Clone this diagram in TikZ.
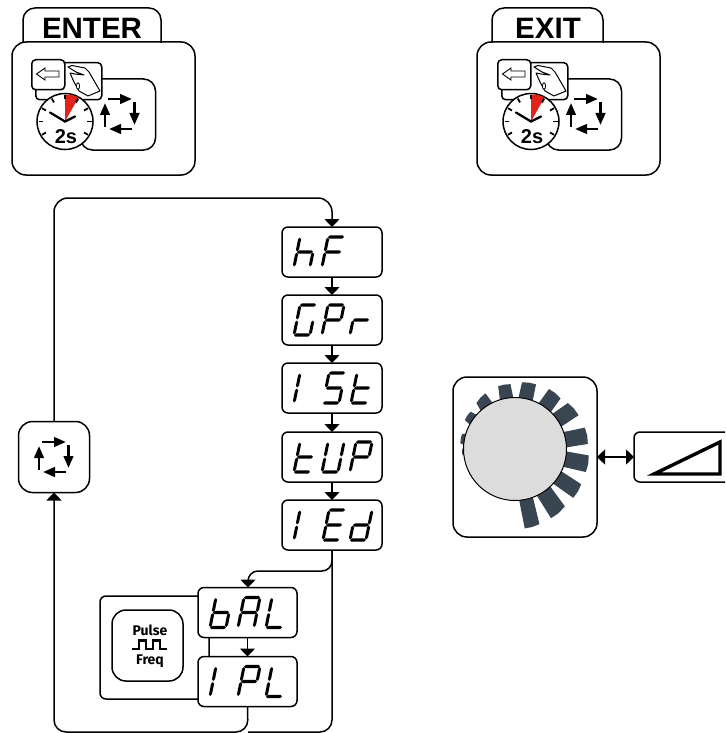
\documentclass[tikz,border=0pt]{standalone}
\usepackage{fontspec}
\setmainfont{Liberation Sans}
\newfontfamily\firafont{Fira Sans}
\usetikzlibrary{arrows.meta,calc}
\definecolor{wedgeblue}{HTML}{3A4552}
\definecolor{knobgrey}{HTML}{DCDCDC}
\definecolor{clockred}{HTML}{E2231A}
\tikzset{
  ln/.style={line width=1.5pt,draw=black},
  flow/.style={ln,-{Triangle[width=15pt,length=8pt]}},
  twoway/.style={ln,{Triangle[width=15pt,length=8pt]}-{Triangle[width=15pt,length=8pt]}},
  panel/.style={ln,rounded corners=14pt,minimum width=183pt,minimum height=133pt,inner sep=0pt,outer sep=0pt},
  display/.style={ln,rounded corners=6pt,minimum width=100pt,minimum height=50pt,inner sep=0pt,outer sep=0pt,fill=white},
  roundbox/.style={ln,rounded corners=14pt,inner sep=0pt,outer sep=0pt,fill=white},
  cycarrow/.style={line width=2.6pt,draw=black,-{Triangle[width=9.5pt,length=12pt]},shorten >=0pt},
  tabtitle/.style={font=\bfseries\fontsize{29.5}{29.5}\selectfont,inner sep=0pt},
}
% seven-segment pieces
\newcommand\hs[3]{\fill (#1,#3) -- ({#1+1.7},{#3-1.7}) -- ({#2-1.7},{#3-1.7}) -- (#2,#3) -- ({#2-1.7},{#3+1.7}) -- ({#1+1.7},{#3+1.7}) -- cycle;}
\newcommand\vs[3]{\fill (#1,#2) -- ({#1+1.5},{#2+1.8}) -- ({#1+1.5},{#3-1.8}) -- (#1,#3) -- ({#1-1.5},{#3-1.8}) -- ({#1-1.5},{#2+1.8}) -- cycle;}
\newcommand\segA{\hs{1}{17}{-30}}
\newcommand\segB{\vs{17}{-29.5}{-15.5}}
\newcommand\segC{\vs{17}{-14.5}{-0.5}}
\newcommand\segD{\hs{1}{17}{0}}
\newcommand\segE{\vs{1}{-14.5}{-0.5}}
\newcommand\segF{\vs{1}{-29.5}{-15.5}}
\newcommand\segG{\hs{1}{17}{-15}}
\newcommand\digit[3]{\begin{scope}[shift={($(#1.north west)+(#2,40)$)},xslant=0.2]#3\end{scope}}
% cycle arrows
\newcommand\cycarrows[2]{\begin{scope}[shift={(#1,#2)}]
  \draw[cycarrow] (-12,-15) -- (12,-15);
  \draw[cycarrow] (14.5,-12) -- (14.5,11);
  \draw[cycarrow] (12,15) -- (-11,15);
  \draw[cycarrow] (-15,13) -- (-15,-11);
\end{scope}}
% timed key icon
\newcommand\timedkey[2]{\begin{scope}[shift={(#1,0)}]
  \node[roundbox,rounded corners=12pt,minimum width=75pt,minimum height=71pt,anchor=north east] (#2loop) at (155.5,79) {};
  \node[ln,fill=white,rounded corners=4pt,minimum width=66pt,minimum height=37pt,inner sep=0pt,anchor=north west] (#2hand) at (35,62) {};
  \draw[line width=1pt,fill=white,line join=round] (68,67) -- (72,65.5) -- (85,68) -- (89,72) -- (100,91) -- (88,96) -- (79,91) -- (74,82) -- (70,73) -- (75,74) -- (84,75) -- (76,72) -- cycle;
  \draw[line width=0.8pt,fill=white] (78,86) ellipse (1.6 and 3.2);
  \node[ln,fill=white,rounded corners=4pt,minimum width=33pt,minimum height=30pt,inner sep=0pt,anchor=north west] (#2key) at (31,59) {};
  \draw[line width=0.9pt] (36.5,74) -- (45,68) -- (45,71) -- (59,71) -- (59,77) -- (45,77) -- (45,80) -- cycle;
  \node[ln,fill=white,circle,minimum size=56pt,inner sep=0pt] (#2clock) at (65,121.5) {};
  \fill[clockred] (65,121.5) -- (65,94.5) -- (72,95) -- (78.5,97.5) -- cycle;
  \foreach \a in {90,60,30,0,-30,150,180,210,120}
    \draw[line width=1.8pt] ({65+22*cos(\a)},{121.5-22*sin(\a)}) -- ({65+26.5*cos(\a)},{121.5-26.5*sin(\a)});
  \draw[line width=2.3pt,line cap=round] (50,112.5) -- (65,121.5) -- (75,116.5);
  \node[inner sep=0pt,font=\bfseries\fontsize{20}{20}\selectfont] (#2two) at (66,136.5) {2s};
\end{scope}
\cycarrows{\the\numexpr120+#1\relax}{114}}
\newcommand\dialwedge[4]{\fill[wedgeblue] ({515+47*cos(#1-3)},{449-47*sin(#1-3)}) -- ({515+#3*cos(#1)},{449-#3*sin(#1)}) -- ({515+0.5*(#3+#4)*cos(0.5*(#1+#2))/cos(0.5*(#2-#1))},{449-0.5*(#3+#4)*sin(0.5*(#1+#2))/cos(0.5*(#2-#1))}) -- ({515+#4*cos(#2)},{449-#4*sin(#2)}) -- ({515+47*cos(#2+3)},{449-47*sin(#2+3)}) -- cycle;}
\begin{document}
\begin{tikzpicture}[x=1pt,y=-1pt]
\useasboundingbox (0,0) rectangle (725,733);
\clip (0,0) rectangle (725,733);
% ENTER panel
\draw[ln,rounded corners=12pt] (23,43) -- (23,8) -- (161,8) -- (161,43);
\node[panel,draw,anchor=north west] (enterpanel) at (12,42) {};
\node[tabtitle] (entertitle) at (92,28) {ENTER};
\timedkey{0}{en}
% EXIT panel
\draw[ln,rounded corners=12pt] (492,43) -- (492,8) -- (603,8) -- (603,43);
\node[panel,draw,anchor=north west] (exitpanel) at (477,42) {};
\node[tabtitle] (exittitle) at (548,28) {EXIT};
\timedkey{466}{ex}
% pulse group behind the displays
\node[roundbox,rounded corners=6pt,draw,minimum width=109pt,minimum height=103pt,anchor=north west] (pulsegroup) at (100,596) {};
\node[roundbox,draw,minimum width=71pt,minimum height=71pt,anchor=north west] (pulsebox) at (112,610) {};
\node[inner sep=0pt,font=\firafont\bfseries\fontsize{14}{14}\selectfont] (pulsetxt) at (150,630) {Pulse};
\node[inner sep=0pt,font=\firafont\bfseries\fontsize{14}{14}\selectfont] (freqtxt) at (150,661) {Freq};
\draw[line width=2.6pt] (132,649) -- (139,649) -- (139,640.5) -- (146,640.5) -- (146,649) -- (153,649) -- (153,640.5) -- (160,640.5) -- (160,649) -- (167,649);
% displays
\node[display,draw] (hF) at (332,252) {};
\node[display,draw] (GPr) at (332,320) {};
\node[display,draw] (ISt) at (332,388) {};
\node[display,draw] (tUP) at (332,457) {};
\node[display,draw] (IEd) at (332,525) {};
\node[display,draw,minimum width=99pt] (bAL) at (247.5,612.5) {};
\node[display,draw,minimum width=99pt] (IPL) at (247.5,681.5) {};
% glyphs
\digit{hF}{11}{\segF\segE\segG\segC}
\digit{hF}{39}{\segA\segF\segE\segG}
\digit{GPr}{11}{\segA\segF\segE\segD\segC}
\digit{GPr}{39}{\segA\segB\segF\segE\segG}
\digit{GPr}{67}{\segE\segG}
\digit{ISt}{11}{\segF\segE}
\digit{ISt}{40}{\segA\segF\segG\segC\segD}
\digit{ISt}{68}{\segF\segE\segG\segD}
\digit{tUP}{11}{\segF\segE\segG\segD}
\digit{tUP}{39}{\segF\segE\segD\segC\segB}
\digit{tUP}{67}{\segA\segB\segF\segE\segG}
\digit{IEd}{11}{\segF\segE}
\digit{IEd}{40}{\segA\segF\segG\segE\segD}
\digit{IEd}{67}{\segB\segC\segD\segE\segG}
\digit{bAL}{11}{\segF\segE\segD\segC\segG}
\digit{bAL}{39}{\segA\segB\segC\segE\segF\segG}
\digit{bAL}{67}{\segF\segE\segD}
\digit{IPL}{11}{\segF\segE}
\digit{IPL}{39}{\segA\segB\segF\segE\segG}
\digit{IPL}{67}{\segF\segE\segD}
% cycle box
\node[roundbox,draw,minimum width=71pt,minimum height=71pt] (cyc) at (54,457) {};
\cycarrows{54}{457}
% connectors
\coordinate (topbend) at (332,198);
\coordinate (midbend) at (332,571);
\coordinate (botleft) at (54,732);
\coordinate (botright) at (332,732);
\coordinate (iplbot) at (248,732);
\coordinate (balin) at (248,571);
\draw[flow,rounded corners=14pt] (cyc.north) |- (topbend) -- (hF.north);
\draw[flow] (hF) -- (GPr);
\draw[flow] (GPr) -- (ISt);
\draw[flow] (ISt) -- (tUP);
\draw[flow] (tUP) -- (IEd);
\draw[flow,rounded corners=10pt] (IEd.south) -- (midbend) -- (balin) -- (balin |- bAL.north);
\draw[flow] (bAL) -- (IPL);
\draw[ln,rounded corners=12pt] (IEd.south) -- (botright) -- (iplbot);
\draw[flow,rounded corners=12pt] (IPL.south) -- (iplbot) -- (botleft) -- (cyc.south);
% dial
\node[roundbox,draw,minimum width=144pt,minimum height=160pt,anchor=north west] (dialbox) at (453,377) {};
\dialwedge{-83}{-72}{80}{79}
\dialwedge{-62.5}{-49}{78}{76}
\dialwedge{-40}{-28}{76}{75}
\dialwedge{-18}{-5}{74.5}{74}
\dialwedge{4}{17}{73}{73}
\dialwedge{28}{41}{72}{70}
\dialwedge{48}{60.5}{68}{69}
\dialwedge{72}{84}{68}{67}
\dialwedge{94}{105}{65}{65}
\dialwedge{118}{130}{63}{60}
\dialwedge{140}{150}{58}{58}
\dialwedge{164}{174}{55}{55}
\dialwedge{180}{186}{53}{53}
\node[draw=black,line width=1pt,fill=knobgrey,circle,minimum size=103pt,inner sep=0pt] (knob) at (515,449) {};
% ramp box
\node[roundbox,rounded corners=6pt,draw,minimum width=110pt,minimum height=50pt,anchor=north west] (rampbox) at (634,432) {};
\draw[line width=3.4pt,miter limit=10] (654,474) -- (720,442) -- (720,474) -- cycle;
\coordinate (dialport) at (dialbox.east |- rampbox.west);
\draw[twoway] (dialport) -- (rampbox.west);
\end{tikzpicture}
\end{document}
